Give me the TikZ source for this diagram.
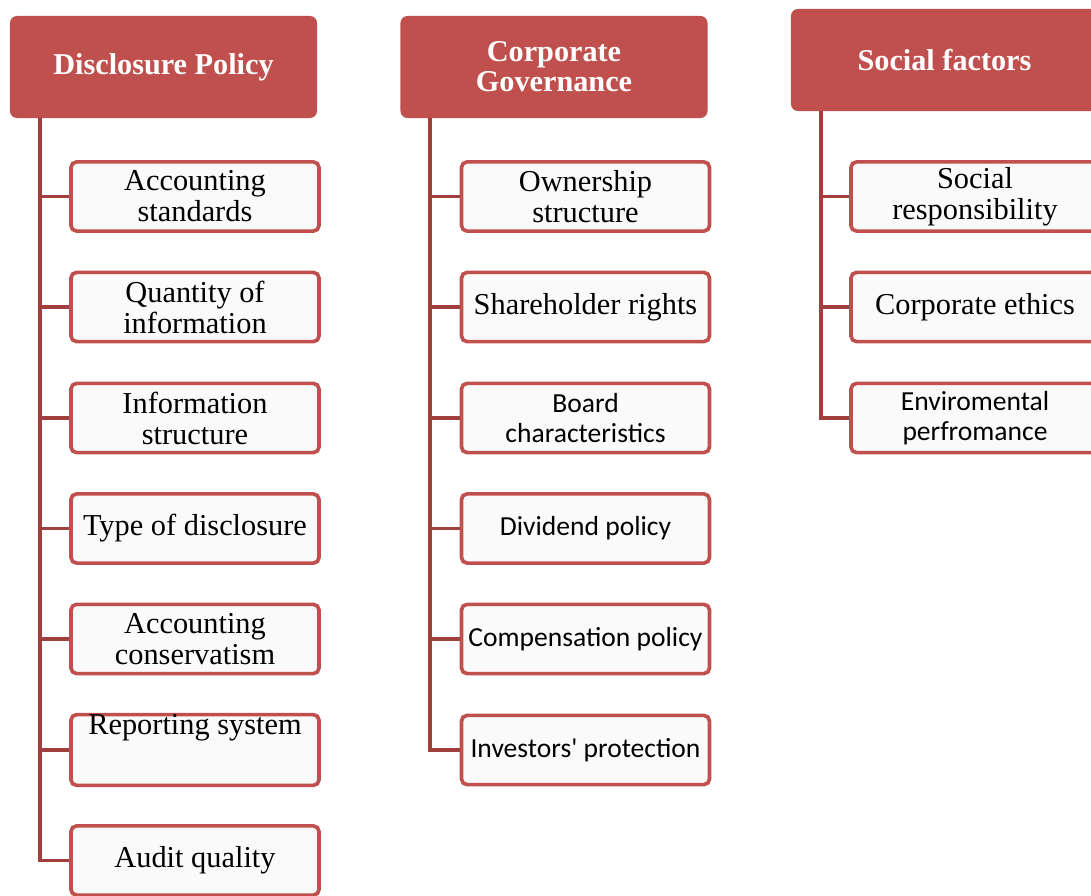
\documentclass[tikz,border=0pt]{standalone}
\usepackage{fontspec}
\setmainfont{Liberation Serif}
\newfontfamily\calibri{Carlito}
\usepackage{xcolor}
\usetikzlibrary{positioning}
\definecolor{boxred}{HTML}{C0504D}
\definecolor{linkred}{HTML}{A0403E}
\definecolor{boxfill}{HTML}{FAFAFA}

\begin{document}
\begin{tikzpicture}[x=0.025cm, y=-0.025cm,
    head/.style={fill=boxred, rounded corners=5pt, minimum width=7.675cm, minimum height=2.55cm, inner sep=0pt, text=white, align=center, font=\fontsize{21.5}{21.5}\selectfont\bfseries},
    item/.style={draw=boxred, line width=2.6pt, fill=boxfill, rounded corners=4pt, minimum width=6.2cm, minimum height=1.73cm, inner sep=0pt, align=center, font=\fontsize{21.6}{22}\selectfont},
    sans/.style={font=\calibri\fontsize{19.6}{21.5}\selectfont},
    link/.style={draw=linkred, line width=2.8pt},
]
\useasboundingbox (0,0) rectangle (1091,895);
\clip (0,0) rectangle (1091,895);

% Column headers
\node[head] (h1) at (163.5, 67) {Disclosure Policy};
\node[head] (h2) at (554, 67) {Corporate\\Governance};
\node[head] (h3) at (944.5, 60) {Social factors};

% Disclosure policy items
\node[item] (a1) at (195, 196.5) {Accounting\\standards};
\node[item] (a2) at (195, 307) {Quantity of\\information};
\node[item] (a3) at (195, 418) {Information\\structure};
\node[item] (a4) at (195, 528.5) {Type of disclosure};
\node[item] (a5) at (195, 639) {Accounting\\conservatism};
\node[item] (a6) at (195, 750) {Reporting system\\[14pt]\mbox{}};
\node[item] (a7) at (195, 860.5) {Audit quality};

% Corporate governance items
\node[item] (b1) at (585.5, 196.5) {Ownership\\structure};
\node[item] (b2) at (585.5, 307) {Shareholder rights};
\node[item, sans] (b3) at (585.5, 418) {Board\\characteristics};
\node[item, sans] (b4) at (585.5, 528.5) {Dividend policy};
\node[item, sans] (b5) at (585.5, 639) {Compensation policy};
\node[item, sans] (b6) at (585.5, 750) {Investors' protection};

% Social factors items
\node[item] (c1) at (975, 196.5) {Social\\responsibility};
\node[item] (c2) at (975, 307) {Corporate ethics};
\node[item, sans] (c3) at (975, 418) {Enviromental\\perfromance};

% Connecting lines
\foreach \i in {1,...,7} {
    \draw[link] ([xshift=0.75cm]h1.south west) |- (a\i.west);
}
\foreach \i in {1,...,6} {
    \draw[link] ([xshift=0.75cm]h2.south west) |- (b\i.west);
}
\foreach \i in {1,...,3} {
    \draw[link] ([xshift=0.75cm]h3.south west) |- (c\i.west);
}

\end{tikzpicture}
\end{document}
